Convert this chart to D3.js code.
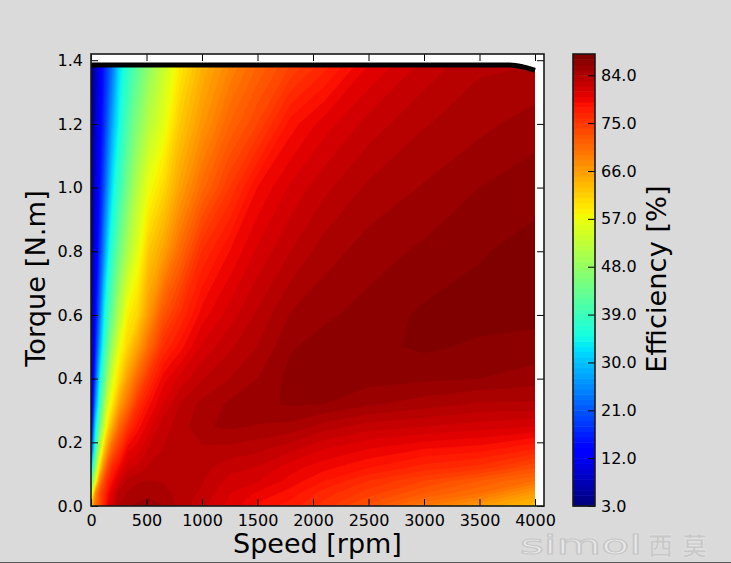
<!DOCTYPE html>
<html>
<head>
<meta charset="utf-8">
<script src="https://cdn.jsdelivr.net/npm/d3@7/dist/d3.min.js"></script>
<style>
html,body{margin:0;padding:0;background:#dadada;overflow:hidden}
svg{display:block}
text{font-family:"DejaVu Sans",sans-serif;fill:#000}
</style>
</head>
<body>
<svg id="c" width="731" height="563"></svg>
<script>
const speeds  = [0,40,80,120,160,200,260,330,420,520,650,800,1000,1250,1500,1800,2100,2500,3000,3500,4000];
const torques = [0,0.04,0.08,0.12,0.18,0.25,0.32,0.4,0.5,0.6,0.8,1.0,1.2,1.385];
// efficiency [%]: one list per speed, bottom to top in torque
const efficiencyBySpeed = [
 [62,50,40,28,15,8,5,4,3,3,3,3,3,3],
 [70,67,55,47,38,32,25,20,16,14,11,9.5,8.3,7.5],
 [73,73,68,61,52,44,38.5,34,28,23.5,18,15,13,12],
 [77,76,73.5,69,62,54,48,42.5,37.5,34,26,21,18,16.5],
 [80.5,79,77,74,68,61,56,50,44.5,40,34,28,23.5,20.5],
 [82,81,79,77,72,65.5,60,56,50,45,38.5,34,29,24.5],
 [84.1,83.5,81.5,79.5,75.5,71,66,61,57,52,45,39,35.5,33],
 [84.8,84.1,83.3,81.7,79.5,75,70,66,61,58.5,50.5,45,41,37.5],
 [85.2,84.6,83.8,82.2,80.5,78.5,75.5,71,65.5,61,56,51.7,46.5,42.5],
 [85.3,84.8,84,83.2,82,80.5,78.7,75.5,70.5,66.5,62,57,51.5,47.5],
 [85,84.4,83.9,83.5,83,82.6,81,79.5,76,72.5,65.5,60.5,56,53],
 [83.6,83.6,83.6,83.6,83.6,83.4,83,81.3,78.5,76,70.5,65.5,62,59],
 [82.3,82.8,83.1,83.4,83.8,84.85,84.3,82.9,81.2,79.5,76,70.5,66.5,64],
 [80.7,81,81.7,82.3,83.7,85.2,85.2,84,82.8,81.5,79,75,71,68],
 [78.7,79.8,81.1,81.9,83.3,84.9,85.8,85,84,83.2,81.2,79,74,71],
 [77.5,78.5,79.6,80.4,82.3,84.7,86.1,86.4,85.9,85.1,83,81.2,78.5,74],
 [75.5,76.5,78,79.3,81,83.5,86,86.4,86.4,85.8,84.5,82.7,80.5,76.5],
 [72.5,74.5,76,78,80,82.5,85.2,86.4,86.7,86.4,85.5,84.2,82.4,80],
 [69,72,74,76.5,79,82,84.5,86.2,87.2,87.2,86.2,85.1,83.9,82.3],
 [66,70,72,75.5,78.5,81.5,83.8,86,86.8,87.4,86.9,86,84.7,83.8],
 [63,66,70,73,77,81,83.8,85.5,86.6,87.3,87.4,86.6,85.5,84]
];
const limitSpeed  = [0,1000,2000,3000,3600,3775,3890,4000];
const limitTorque = [1.385,1.385,1.385,1.385,1.385,1.385,1.379,1.368];
const speedTicks  = [0,500,1000,1500,2000,2500,3000,3500,4000];
const torqueTicks = [0,0.2,0.4,0.6,0.8,1.0,1.2,1.4];
const effTicks    = [3,12,21,30,39,48,57,66,75,84];
const effMin = 3, effMax = 88;

const box = {l:91,r:544,t:54,b:506};
const cb  = {l:573,r:595,t:54,b:506};
const svg = d3.select("#c");

const x = d3.scaleLinear().domain([0,4081]).range([box.l,box.r]);
const y = d3.scaleLinear().domain([0,1.4195]).range([box.b,box.t]);
const yc = d3.scaleLinear().domain([effMin,effMax]).range([cb.b,cb.t]);

// jet colormap
const jr = d3.scaleLinear().domain([0,.35,.66,.89,1]).range([0,0,1,1,.5]);
const jg = d3.scaleLinear().domain([0,.125,.375,.64,.91,1]).range([0,0,1,1,0,0]);
const jb = d3.scaleLinear().domain([0,.11,.34,.65,1]).range([.5,1,1,0,0]);
const jet = t => d3.rgb(jr(t)*255,jg(t)*255,jb(t)*255).formatHex();

const levels = d3.range(effMin,effMax,1);
const bandColor = i => jet(i/(levels.length-1));

svg.append("rect").attr("width",731).attr("height",563).attr("fill","#dadada");
svg.append("rect").attr("x",box.l).attr("y",box.t).attr("width",box.r-box.l).attr("height",box.b-box.t).attr("fill","#fff");

const defs = svg.append("defs");
const limitPts = limitSpeed.map((s,i)=>[s,limitTorque[i]]);
defs.append("clipPath").attr("id","under").append("path")
  .attr("d",d3.area().x(d=>x(d[0])).y0(y(0)).y1(d=>y(d[1]))(limitPts));
defs.append("clipPath").attr("id","plot").append("rect")
  .attr("x",box.l).attr("y",box.t).attr("width",box.r-box.l).attr("height",box.b-box.t);

// contours over the irregular speed/torque grid
const n = speeds.length, m = torques.length;
const grid = new Array(n*m);
for(let j=0;j<m;j++) for(let i=0;i<n;i++) grid[j*n+i] = efficiencyBySpeed[i][j];
const ix = d3.scaleLinear().domain(speeds.map((_,i)=>i+.5)).range(speeds).clamp(true);
const iy = d3.scaleLinear().domain(torques.map((_,i)=>i+.5)).range(torques).clamp(true);
const proj = d3.geoTransform({point(a,b){this.stream.point(x(ix(a)),y(iy(b)));}});
const path = d3.geoPath(proj);
const contours = d3.contours().size([n,m]).thresholds(levels)(grid);

svg.append("g").attr("clip-path","url(#under)")
  .selectAll("path").data(contours).join("path")
  .attr("d",path)
  .attr("fill",(d,i)=>bandColor(i))
  .attr("stroke",(d,i)=>bandColor(i)).attr("stroke-width",.3);

// torque limit line
svg.append("path").attr("clip-path","url(#plot)")
  .attr("d",d3.line().x(d=>x(d[0])).y(d=>y(d[1])).curve(d3.curveMonotoneX)(limitPts))
  .attr("fill","none").attr("stroke","#000").attr("stroke-width",5);

function styleAxis(g){
  g.select(".domain").remove();
  g.selectAll(".tick line").attr("stroke","#000").attr("stroke-width",1);
  g.selectAll(".tick text").attr("font-size",16).attr("font-family",'"DejaVu Sans",sans-serif').attr("fill","#000");
}
svg.append("g").attr("transform",`translate(0,${box.b})`)
  .call(d3.axisBottom(x).tickValues(speedTicks).tickFormat(d3.format("d")).tickSizeInner(-7).tickSizeOuter(0).tickPadding(9)).call(styleAxis);
svg.append("g").attr("transform",`translate(0,${box.t})`)
  .call(d3.axisTop(x).tickValues(speedTicks).tickFormat("").tickSizeInner(-7).tickSizeOuter(0)).call(styleAxis);
svg.append("g").attr("transform",`translate(${box.l},0)`)
  .call(d3.axisLeft(y).tickValues(torqueTicks).tickFormat(d3.format(".1f")).tickSizeInner(-7).tickSizeOuter(0).tickPadding(8)).call(styleAxis);
svg.append("g").attr("transform",`translate(${box.r},0)`)
  .call(d3.axisRight(y).tickValues(torqueTicks).tickFormat("").tickSizeInner(-7).tickSizeOuter(0)).call(styleAxis);
svg.append("rect").attr("x",box.l).attr("y",box.t).attr("width",box.r-box.l).attr("height",box.b-box.t)
  .attr("fill","none").attr("stroke","#1a1a1a").attr("stroke-width",1.6);

// colourbar
svg.append("g").selectAll("rect").data(levels).join("rect")
  .attr("x",cb.l).attr("width",cb.r-cb.l)
  .attr("y",d=>yc(d+1)).attr("height",d=>yc(d)-yc(d+1)+.5)
  .attr("fill",(d,i)=>bandColor(i));
svg.append("g").attr("transform",`translate(${cb.r},0)`)
  .call(d3.axisRight(yc).tickValues(effTicks).tickFormat(d3.format(".1f")).tickSizeInner(-7).tickSizeOuter(0).tickPadding(6)).call(styleAxis);
svg.append("rect").attr("x",cb.l).attr("y",cb.t).attr("width",cb.r-cb.l).attr("height",cb.b-cb.t)
  .attr("fill","none").attr("stroke","#1a1a1a").attr("stroke-width",1.6);

// axis titles
svg.append("text").attr("x",317.5).attr("y",553).attr("text-anchor","middle").attr("font-size",27).text("Speed [rpm]");
svg.append("text").attr("transform","translate(45,278.5) rotate(-90)").attr("text-anchor","middle").attr("font-size",27.3).text("Torque [N.m]");
svg.append("text").attr("transform","translate(666,279) rotate(-90)").attr("text-anchor","middle").attr("font-size",27.3).text("Efficiency [%]");

// watermark
svg.append("text").attr("x",520).attr("y",554).attr("font-size",26).attr("textLength",122).attr("lengthAdjust","spacingAndGlyphs")
  .style("fill","#e9e9e9").attr("stroke","#c6c6c6").attr("stroke-width",1).text("simol");
svg.append("text").attr("x",648).attr("y",555).attr("font-size",25).attr("textLength",59)
  .style("font-family",'"Noto Sans CJK SC"').style("font-weight",700)
  .style("fill","#c8c8c8").attr("stroke","#e8e8e8").attr("stroke-width",.5).text("西莫");

// window edge
svg.append("line").attr("x1",0).attr("x2",731).attr("y1",562.5).attr("y2",562.5).attr("stroke","#5a5a5a");
</script>
</body>
</html>
